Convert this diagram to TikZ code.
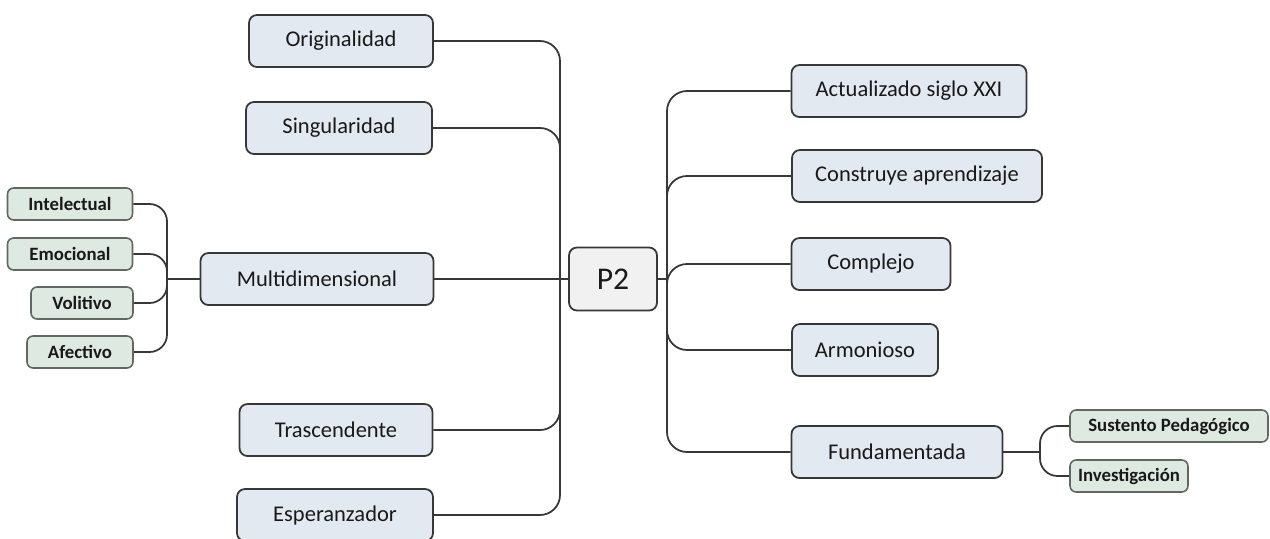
\documentclass[tikz,border=0pt]{standalone}
\usepackage{fontspec}
\setmainfont{Carlito}
\usepackage{tikz}
\usetikzlibrary{positioning, calc}
\definecolor{boxfill}{RGB}{226,233,240}
\definecolor{subfill}{RGB}{222,233,226}
\definecolor{hubfill}{RGB}{241,241,241}
\definecolor{edge}{RGB}{55,55,55}
\definecolor{subedge}{RGB}{95,105,98}
\definecolor{ink}{RGB}{25,25,25}
\tikzstyle{main} = [rectangle, rounded corners=4.5pt, minimum height=1.04cm, text centered, draw=edge, line width=1pt, fill=boxfill, text=ink, font=\fontsize{12.8}{14}\selectfont]
\tikzstyle{sub} = [rectangle, rounded corners=3.5pt, minimum height=0.64cm, text centered, draw=subedge, line width=0.9pt, fill=subfill, text=ink, font=\fontsize{10.7}{12}\selectfont\bfseries]
\tikzstyle{hub} = [main, fill=hubfill, minimum width=1.76cm, minimum height=1.26cm, font=\fontsize{18}{20}\selectfont]
\tikzstyle{link} = [draw=edge, line width=1pt, rounded corners=0.4cm]
\tikzstyle{sublink} = [draw=edge, line width=1pt, rounded corners=0.35cm]

\begin{document}
\begin{tikzpicture}[x=0.02cm, y=-0.02cm]
\useasboundingbox (0,0) rectangle (1270,538);

% Center
\node (p2) [hub] at (613,279) {P2};

% Left branches
\node (orig) [main, minimum width=3.68cm] at (341,41) {Originalidad};
\node (sing) [main, minimum width=3.72cm] at (339,128) {Singularidad};
\node (multi) [main, minimum width=4.66cm] at (317,279) {Multidimensional};
\node (trasc) [main, minimum width=3.86cm] at (336,430) {Trascendente};
\node (esper) [main, minimum width=3.92cm] at (335,515) {Esperanzador};

% Dimensions
\node (intel) [sub, minimum width=2.5cm] at (70,204) {Intelectual};
\node (emoc) [sub, minimum width=2.5cm] at (70,254) {Emocional};
\node (volit) [sub, minimum width=2.04cm] at (82,303) {Volitivo};
\node (afect) [sub, minimum width=2.12cm] at (80,352) {Afectivo};

% Right branches
\node (actual) [main, minimum width=4.7cm] at (909,91) {Actualizado siglo XXI};
\node (constr) [main, minimum width=5cm] at (917,176) {Construye aprendizaje};
\node (compl) [main, minimum width=3.18cm] at (871,264) {Complejo};
\node (armon) [main, minimum width=2.92cm] at (865,350) {Armonioso};
\node (fund) [main, minimum width=4.22cm] at (897,452) {Fundamentada};

% Foundations
\node (sust) [sub, minimum width=3.96cm] at (1169,426) {Sustento Pedagógico};
\node (inv) [sub, minimum width=2.36cm] at (1129,476) {Investigación};

% Junctions
\coordinate (lj) at (560,279);
\coordinate (rj) at (667,279);
\coordinate (mj) at (167,279);
\coordinate (fj) at (1040,452);

% Lines
\draw [link] (lj) -- (p2.west);
\draw [link] (p2.east) -- (rj);
\draw [link] (multi.east) -- (lj);
\draw [link] (orig.east) -| (lj);
\draw [link] (sing.east) -| (lj);
\draw [link] (trasc.east) -| (lj);
\draw [link] (esper.east) -| (lj);
\draw [link] (rj) |- (actual.west);
\draw [link] (rj) |- (constr.west);
\draw [link] (rj) |- (compl.west);
\draw [link] (rj) |- (armon.west);
\draw [link] (rj) |- (fund.west);
\draw [sublink] (mj) -- (multi.west);
\draw [sublink] (intel.east) -| (mj);
\draw [sublink] (emoc.east) -| (mj);
\draw [sublink] (volit.east) -| (mj);
\draw [sublink] (afect.east) -| (mj);
\draw [sublink] (fund.east) -- (fj);
\draw [sublink] (fj) |- (sust.west);
\draw [sublink] (fj) |- (inv.west);

\end{tikzpicture}
\end{document}
